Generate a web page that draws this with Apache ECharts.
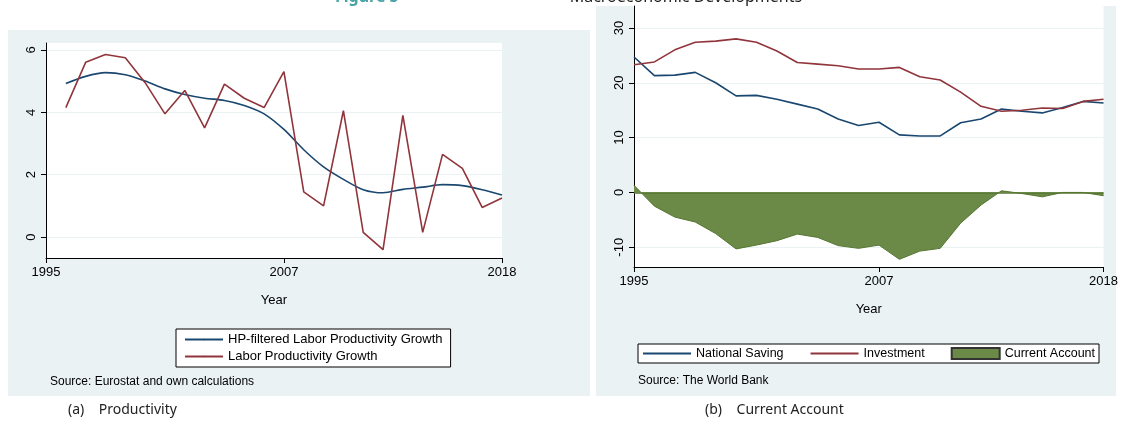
<!DOCTYPE html>
<html><head><meta charset="utf-8">
<script src="https://cdn.jsdelivr.net/npm/echarts@6/dist/echarts.min.js"></script>
<style>body{margin:0;background:#fff}#c{width:1121px;height:426px}</style>
</head><body><div id="c"></div>
<script>
var years = [];
for (var y = 1995; y <= 2018; y++) years.push(String(y));
var shownYears = ['1995', '2007', '2018'];
var ticksA = [0, 2, 4, 6];
var ticksB = [-10, 0, 10, 20, 30];
// Figure (a): 1995 is empty
var hpTrend = [null, 4.92, 5.15, 5.27, 5.2, 5.0, 4.75, 4.57, 4.45, 4.38, 4.22, 3.95, 3.45, 2.8, 2.25, 1.85, 1.52, 1.42, 1.53, 1.6, 1.68, 1.65, 1.52, 1.35];
var prodGrowth = [null, 4.15, 5.6, 5.85, 5.75, 4.95, 3.95, 4.7, 3.5, 4.9, 4.45, 4.15, 5.3, 1.45, 1.0, 4.05, 0.15, -0.4, 3.9, 0.15, 2.65, 2.2, 0.95, 1.25];
// Figure (b)
var saving = [24.7, 21.3, 21.4, 21.9, 20.0, 17.6, 17.7, 17.0, 16.1, 15.2, 13.4, 12.2, 12.8, 10.5, 10.3, 10.3, 12.7, 13.4, 15.2, 14.8, 14.5, 15.5, 16.6, 16.3];
var investment = [23.3, 23.8, 26.0, 27.4, 27.6, 28.0, 27.4, 25.8, 23.7, 23.4, 23.1, 22.5, 22.5, 22.8, 21.1, 20.5, 18.3, 15.7, 14.8, 15.0, 15.4, 15.3, 16.6, 17.0];
var currentAccount = [1.3, -2.5, -4.5, -5.4, -7.5, -10.3, -9.6, -8.8, -7.6, -8.2, -9.7, -10.2, -9.6, -12.2, -10.7, -10.2, -5.6, -2.3, 0.3, -0.2, -0.8, 0, 0, -0.6];

var NAVY = '#1a476f', MAROON = '#90353b', GREEN = '#6b8a48', BG = '#eaf2f3';
var font = 'Liberation Sans';
function showYear(i, v) { return shownYears.indexOf(v) >= 0; }
function xAxis(idx) {
  return {
    type: 'category', gridIndex: idx, data: years, boundaryGap: false,
    name: 'Year', nameLocation: 'middle', nameGap: 36,
    nameTextStyle: {color: '#000', fontSize: 13, fontFamily: font},
    axisLine: {onZero: false, lineStyle: {color: '#000'}},
    axisTick: {interval: showYear, length: 5, lineStyle: {color: '#000'}},
    axisLabel: {interval: showYear, color: '#000', fontSize: 13, fontFamily: font, margin: 8},
    splitLine: {show: false}
  };
}
function yAxis(idx, min, max, vals) {
  return {
    type: 'value', gridIndex: idx, min: min, max: max,
    axisLine: {show: true, lineStyle: {color: '#000'}},
    axisTick: {show: true, length: 5, customValues: vals, lineStyle: {color: '#000'}},
    axisLabel: {rotate: 90, color: '#000', fontSize: 13, fontFamily: font, margin: 8, customValues: vals},
    splitLine: {lineStyle: {color: BG, width: 1}}
  };
}
var noDot = {opacity: 0};
var chart = echarts.init(document.getElementById('c'));
chart.setOption({
  animation: false,
  textStyle: {fontFamily: font},
  graphic: [
    {type: 'rect', shape: {x: 8, y: 30, width: 582, height: 366}, style: {fill: BG}, z: -10},
    {type: 'rect', shape: {x: 596, y: 6, width: 520, height: 390}, style: {fill: BG}, z: -10},
    {type: 'text', left: 50, top: 376, style: {text: 'Source: Eurostat and own calculations', fontSize: 12, fontFamily: font, fill: '#000'}},
    {type: 'text', left: 638, top: 375, style: {text: 'Source: The World Bank', fontSize: 12, fontFamily: font, fill: '#000'}},
    {type: 'text', left: 68, top: 403, style: {text: '(a)    Productivity', fontSize: 14, fontFamily: 'Noto Sans', fill: '#222'}},
    {type: 'text', left: 705, top: 403, style: {text: '(b)    Current Account', fontSize: 14, fontFamily: 'Noto Sans', fill: '#222'}},
    {type: 'text', left: 335, top: -11, z: -20, style: {text: 'Figure 5', fill: '#4aa3a6', fontWeight: 'bold', fontSize: 16, fontFamily: 'Noto Sans'}},
    {type: 'text', left: 545, top: -11, z: -20, style: {text: '–    Macroeconomic Developments', fill: '#222', fontSize: 16, fontFamily: 'Noto Sans'}}
  ],
  grid: [
    {left: 46, top: 43, width: 456, height: 215, show: true, backgroundColor: '#fff', borderWidth: 0},
    {left: 634, top: 6, width: 472, height: 261, show: true, backgroundColor: '#fff', borderWidth: 0}
  ],
  xAxis: [xAxis(0), xAxis(1)],
  yAxis: [yAxis(0, -0.67, 6.22, ticksA), yAxis(1, -13.6, 34, ticksB)],
  legend: [
    {left: 176, top: 329, width: 290, orient: 'vertical', itemGap: 4, itemWidth: 38, itemHeight: 2,
      backgroundColor: '#fff', borderColor: '#000', borderWidth: 1, padding: [4, 8],
      textStyle: {fontSize: 13, color: '#000', fontFamily: font},
      data: ['HP-filtered Labor Productivity Growth', 'Labor Productivity Growth']},
    {left: 638, top: 344, width: 500, orient: 'horizontal', itemGap: 26, itemWidth: 48, itemHeight: 11,
      backgroundColor: '#fff', borderColor: '#000', borderWidth: 1, padding: [3, 4],
      textStyle: {fontSize: 12.5, color: '#000', fontFamily: font},
      data: [{name: 'National Saving', itemStyle: noDot}, {name: 'Investment', itemStyle: noDot}, {name: 'Current Account', icon: 'rect'}]}
  ],
  series: [
    {name: 'HP-filtered Labor Productivity Growth', type: 'line', xAxisIndex: 0, yAxisIndex: 0, data: hpTrend,
      smooth: 0.3, symbol: 'none', lineStyle: {color: NAVY, width: 1.6}, itemStyle: {color: NAVY}},
    {name: 'Labor Productivity Growth', type: 'line', xAxisIndex: 0, yAxisIndex: 0, data: prodGrowth,
      symbol: 'none', lineStyle: {color: MAROON, width: 1.6}, itemStyle: {color: MAROON}},
    {name: 'Current Account', type: 'line', xAxisIndex: 1, yAxisIndex: 1, data: currentAccount,
      symbol: 'none', lineStyle: {color: '#55752f', width: 1}, itemStyle: {color: GREEN, borderColor: '#333', borderWidth: 1},
      areaStyle: {color: GREEN, opacity: 1, origin: 0}, z: 1},
    {name: 'National Saving', type: 'line', xAxisIndex: 1, yAxisIndex: 1, data: saving,
      symbol: 'none', lineStyle: {color: NAVY, width: 1.6}, itemStyle: {color: NAVY}, z: 3},
    {name: 'Investment', type: 'line', xAxisIndex: 1, yAxisIndex: 1, data: investment,
      symbol: 'none', lineStyle: {color: MAROON, width: 1.6}, itemStyle: {color: MAROON}, z: 3,
      markLine: {silent: true, symbol: 'none', label: {show: false}, lineStyle: {color: '#55752f', type: 'solid', width: 1.5}, data: [{yAxis: 0}]}}
  ]
});
</script></body></html>
